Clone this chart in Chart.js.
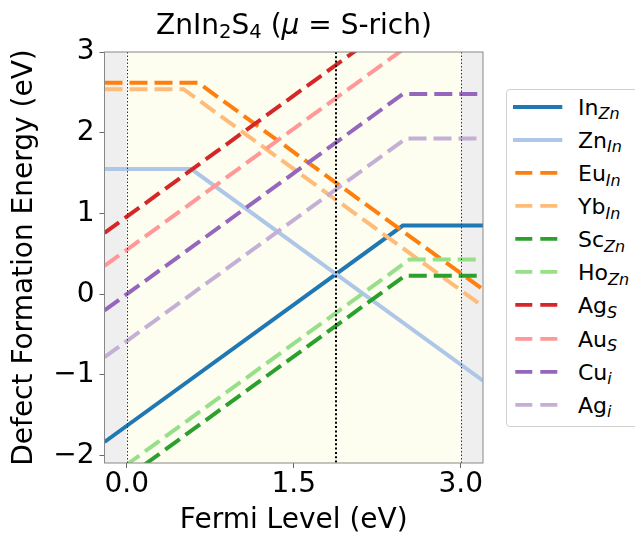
<!DOCTYPE html>
<html>
<head>
<meta charset="utf-8">
<script src="https://cdn.jsdelivr.net/npm/chart.js@4/dist/chart.umd.min.js"></script>
<style>
  html, body { margin: 0; padding: 0; background: #fff; }
  #wrap { position: relative; width: 635px; height: 533px; overflow: hidden; font-family: "DejaVu Sans", sans-serif; color: #000; }
  #title { position: absolute; left: 0; top: 9.5px; width: 588px; text-align: center; font-size: 28px; line-height: 30px; white-space: nowrap; }
  #title .sub { font-size: 19.6px; position: relative; top: 4.5px; line-height: 0; }
  #legend { position: absolute; left: 506px; top: 89px; width: 170px; height: 338px; box-sizing: border-box; border: 1px solid #d0d0d0; border-radius: 4px; background: #fff; }
  .row { position: absolute; left: 0; width: 160px; height: 33.1px; }
  .row svg { position: absolute; left: 5.7px; top: 0; }
  .row .lbl { position: absolute; left: 71px; top: 0; font-size: 22px; line-height: 33.1px; white-space: nowrap; }
  .row .sub { font-size: 16px; font-style: italic; position: relative; top: 4.5px; line-height: 0; }
</style>
</head>
<body>
<div id="wrap">
  <canvas id="chart" width="635" height="533"></canvas>
  <div id="title">ZnIn<span class="sub">2</span>S<span class="sub">4</span> (<i>μ</i> = S-rich)</div>
  <div id="legend"></div>
</div>
<script>
// defect labels: base + site (site is drawn as italic subscript)
const defectBase = ["In", "Zn", "Eu", "Yb", "Sc", "Ho", "Ag", "Au", "Cu", "Ag"];
const defectSite = ["Zn", "In", "In", "In", "Zn", "Zn", "S", "S", "i", "i"];
const defectColors = ["#1f77b4", "#aec7e8", "#ff7f0e", "#ffbb78", "#2ca02c", "#98df8a", "#d62728", "#ff9896", "#9467bd", "#c5b0d5"];
const defectSolid = [true, true, false, false, false, false, false, false, false, false];

// formation energy vs Fermi level, [E_F, E_form] at the ends and at the kinks
const inZn = [[-0.2, -1.83], [2.48, 0.85], [3.2, 0.85]];
const znIn = [[-0.2, 1.55], [0.58, 1.55], [3.2, -1.07]];
const euIn = [[-0.2, 2.62], [0.64, 2.62], [3.2, 0.06]];
const ybIn = [[-0.2, 2.54], [0.51, 2.54], [3.2, -0.15]];
const scZn = [[-0.2, -2.47], [2.50, 0.23], [3.2, 0.23]];
const hoZn = [[-0.2, -2.31], [2.54, 0.43], [3.2, 0.43]];
const agS = [[-0.2, 0.76], [3.2, 4.16]];
const auS = [[-0.2, 0.35], [3.2, 3.75]];
const cuI = [[-0.2, -0.2], [2.48, 2.48], [3.2, 2.48]];
const agI = [[-0.2, -0.78], [2.51, 1.93], [3.2, 1.93]];
const defectCurves = [inZn, znIn, euIn, ybIn, scZn, hoZn, agS, auS, cuI, agI];

// band edges (VBM, CBM) and the pinned Fermi level
const bandEdges = [0.0, 3.0];
const pinnedLevel = [1.88];
const xRange = [-0.2, 3.2];
const yRange = [-2.09, 3];

const FONT = "'DejaVu Sans', sans-serif";

const datasets = defectCurves.map((pts, i) => ({
  label: defectBase[i] + "_" + defectSite[i],
  data: pts.map(([x, y]) => ({ x, y })),
  borderColor: defectColors[i],
  borderWidth: 4,
  borderDash: defectSolid[i] ? [] : [18, 7],
  borderCapStyle: "butt",
  pointRadius: 0,
  tension: 0,
  fill: false,
  clip: 0,
  order: defectCurves.length - i,
}));

const bandPlugin = {
  id: "bands",
  beforeDatasetsDraw(chart) {
    const { ctx, chartArea: a, scales: { x } } = chart;
    const x0 = x.getPixelForValue(bandEdges[0]);
    const x1 = x.getPixelForValue(bandEdges[1]);
    const h = a.bottom - a.top;
    ctx.save();
    ctx.fillStyle = "#efefef";
    ctx.fillRect(a.left, a.top, x0 - a.left, h);
    ctx.fillRect(x1, a.top, a.right - x1, h);
    ctx.fillStyle = "#fdfdf0";
    ctx.fillRect(x0, a.top, x1 - x0, h);
    ctx.restore();
  },
  afterDatasetsDraw(chart) {
    const { ctx, chartArea: a, scales: { x } } = chart;
    const vline = (v, width, dash, color) => {
      const px = Math.round(x.getPixelForValue(v)) + (width % 2 ? 0.5 : 0);
      ctx.beginPath();
      ctx.lineWidth = width;
      ctx.setLineDash(dash);
      ctx.strokeStyle = color;
      ctx.moveTo(px, a.top);
      ctx.lineTo(px, a.bottom);
      ctx.stroke();
    };
    ctx.save();
    bandEdges.forEach((v) => vline(v, 1, [1.5, 2], "#333"));
    pinnedLevel.forEach((v) => vline(v, 2, [2, 2.3], "#000"));
    ctx.setLineDash([]);
    ctx.lineWidth = 1;
    ctx.strokeStyle = "#888";
    ctx.strokeRect(a.left, a.top, a.right - a.left, a.bottom - a.top);
    ctx.restore();
  },
};

const minus = (s) => String(s).replace("-", "\u2212");

const chart = new Chart(document.getElementById("chart"), {
  type: "line",
  data: { datasets },
  options: {
    responsive: false,
    animation: false,
    layout: { padding: { left: 0, right: 152, top: 52, bottom: 0 } },
    plugins: { legend: { display: false }, title: { display: false }, tooltip: { enabled: false } },
    scales: {
      x: {
        type: "linear",
        min: xRange[0],
        max: xRange[1],
        afterFit: (s) => { s.height = 70; },
        ticks: {
          stepSize: 1.5,
          includeBounds: false,
          padding: 2.5,
          color: "#000",
          font: { family: FONT, size: 28, lineHeight: 1 },
          callback: (v) => minus(Number(v).toFixed(1)),
        },
        grid: { drawOnChartArea: false, drawTicks: true, tickLength: 5, tickColor: "#666" },
        border: { display: false },
        title: { display: true, text: "Fermi Level (eV)", color: "#000", padding: { top: 0, bottom: 0 }, font: { family: FONT, size: 28, lineHeight: 0.9 } },
      },
      y: {
        type: "linear",
        min: yRange[0],
        max: yRange[1],
        afterFit: (s) => { s.width = 104.5; },
        ticks: {
          stepSize: 1,
          includeBounds: false,
          padding: 5,
          color: "#000",
          font: { family: FONT, size: 28, lineHeight: 1 },
          callback: (v) => minus(v),
        },
        grid: { drawOnChartArea: false, drawTicks: true, tickLength: 5, tickColor: "#666" },
        border: { display: false },
        title: { display: true, text: "Defect Formation Energy (eV)", color: "#000", padding: { top: 11.8, bottom: 0 }, font: { family: FONT, size: 28, lineHeight: 0.9 } },
      },
    },
  },
  plugins: [bandPlugin],
});

// legend built from the chart datasets, with italic subscripts
const legend = document.getElementById("legend");
chart.data.datasets.forEach((ds, i) => {
  const [base, site] = ds.label.split("_");
  const solid = ds.borderDash.length === 0;
  const line = solid
    ? `<line x1="0" y1="15.9" x2="49.3" y2="15.9" stroke="${ds.borderColor}" stroke-width="4"/>`
    : `<line x1="2.3" y1="15.9" x2="47.3" y2="15.9" stroke="${ds.borderColor}" stroke-width="3.6" stroke-dasharray="17 8"/>`;
  const row = document.createElement("div");
  row.className = "row";
  row.style.top = (0.8 + i * 33.1) + "px";
  row.innerHTML = `<svg width="55" height="33">${line}</svg><span class="lbl">${base}<span class="sub">${site}</span></span>`;
  legend.appendChild(row);
});
</script>
</body>
</html>
